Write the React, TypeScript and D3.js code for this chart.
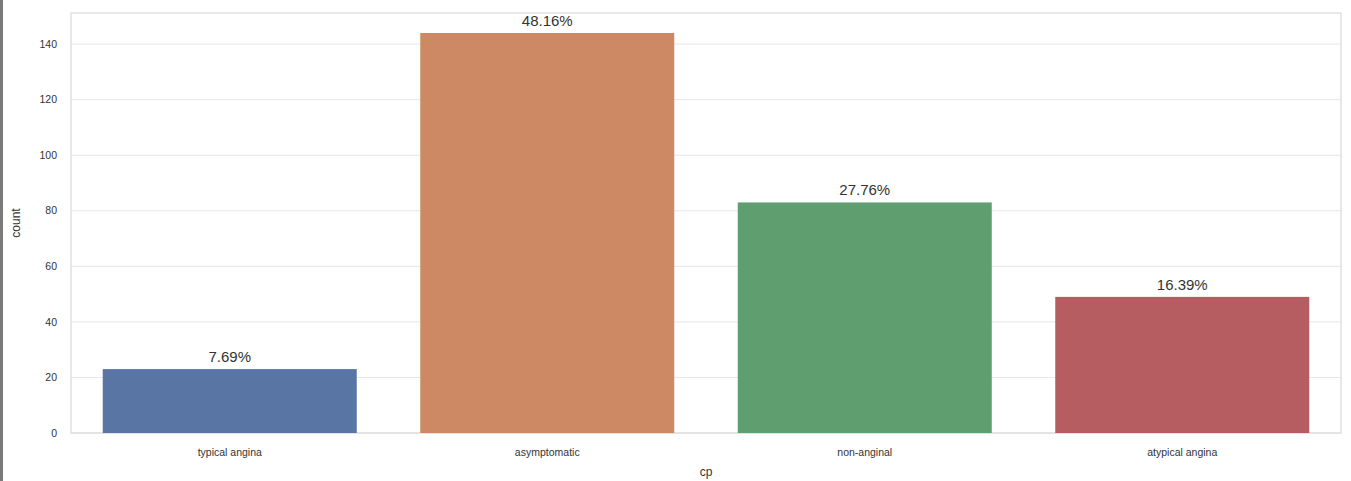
import React from "react";
import * as d3 from "d3";

const categories = ["typical angina", "asymptomatic", "non-anginal", "atypical angina"];
const counts = [23, 144, 83, 49];
const colors = ["#5875A3", "#CC8963", "#5F9E6E", "#B55D60"];
const yTicks = [0, 20, 40, 60, 80, 100, 120, 140];

const W = 1351;
const H = 481;
const M = { left: 71, right: 10, top: 13, bottom: 48 };

export default function App() {
  const total = d3.sum(counts);
  const x = d3
    .scaleBand<string>()
    .domain(categories)
    .range([M.left, W - M.right])
    .paddingInner(0.2)
    .paddingOuter(0.1);
  const y = d3
    .scaleLinear()
    .domain([0, d3.max(counts)! * 1.05])
    .range([H - M.bottom, M.top]);
  const font = "'Liberation Sans', Arial, sans-serif";
  const x0 = M.left;
  const x1 = W - M.right;
  const y0 = H - M.bottom;
  const y1 = M.top;
  return (
    <svg
      width={W}
      height={H}
      style={{ position: "absolute", left: 0, top: 0, background: "#fff" }}
      fontFamily={font}
    >
      <rect x={0} y={0} width={W} height={H} fill="#fff" />
      <rect x={0} y={0} width={3} height={H} fill="#7a7a7a" />
      {yTicks.map((t) => (
        <g key={t}>
          <line x1={x0} x2={x1} y1={y(t)} y2={y(t)} stroke="#e6e6e6" strokeWidth={1} />
          <text x={x0 - 14} y={y(t)} dy="0.35em" textAnchor="end" fontSize={10.5} fill="#333">
            {t}
          </text>
        </g>
      ))}
      <rect x={x0} y={y1} width={x1 - x0} height={y0 - y1} fill="none" stroke="#d9d9d9" strokeWidth={1.2} />
      {categories.map((c, i) => (
        <g key={c}>
          <rect
            x={x(c)!}
            y={y(counts[i])}
            width={x.bandwidth()}
            height={y(0) - y(counts[i])}
            fill={colors[i]}
          />
          <text
            x={x(c)! + x.bandwidth() / 2}
            y={y(counts[i]) - 7}
            textAnchor="middle"
            fontSize={15}
            fill="#333"
          >
            {((counts[i] / total) * 100).toFixed(2) + "%"}
          </text>
          <text
            x={x(c)! + x.bandwidth() / 2}
            y={y0 + 19}
            dy="0.35em"
            textAnchor="middle"
            fontSize={10.5}
            fill="#333"
          >
            {c}
          </text>
        </g>
      ))}
      <text
        transform={`translate(${20},${(y0 + y1) / 2}) rotate(-90)`}
        textAnchor="middle"
        fontSize={12}
        fill="#333"
      >
        count
      </text>
      <text x={(x0 + x1) / 2} y={H - 5} textAnchor="middle" fontSize={12} fill="#333">
        cp
      </text>
    </svg>
  );
}
